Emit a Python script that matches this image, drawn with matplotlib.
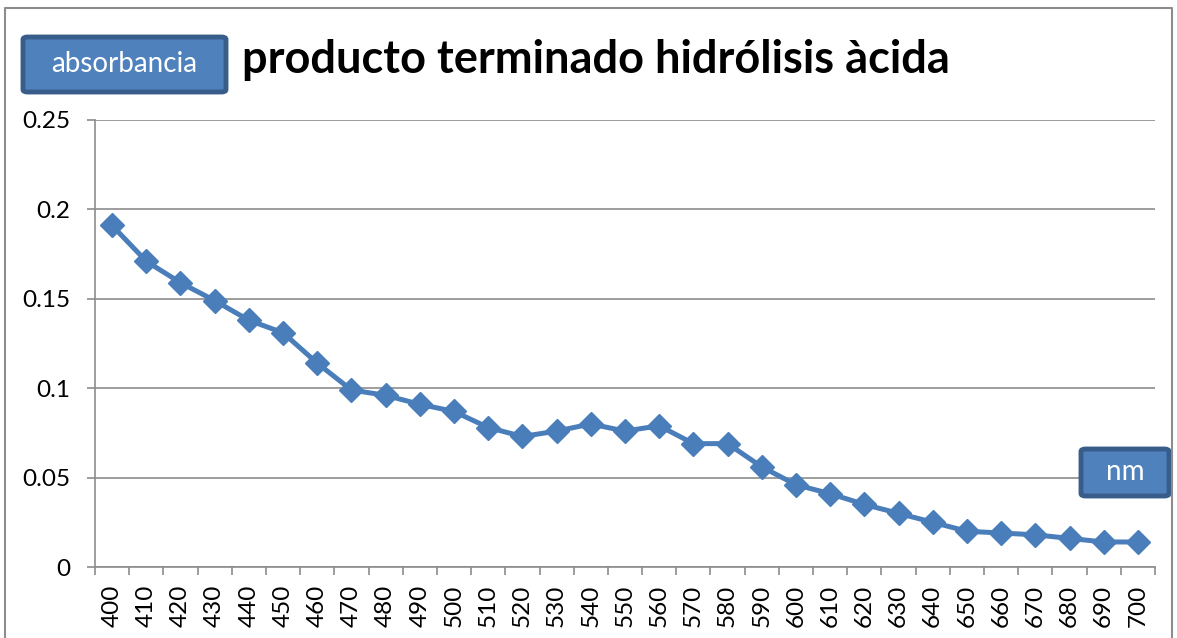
import matplotlib.pyplot as plt
from matplotlib.patches import FancyBboxPatch
from matplotlib.lines import Line2D

plt.rcParams['font.family'] = ['Lato', 'DejaVu Sans']

nm = [400, 410, 420, 430, 440, 450, 460, 470, 480, 490, 500, 510, 520, 530, 540,
      550, 560, 570, 580, 590, 600, 610, 620, 630, 640, 650, 660, 670, 680, 690, 700]
absorbancia = [0.191, 0.171, 0.159, 0.149, 0.138, 0.131, 0.114, 0.099, 0.096, 0.091,
               0.087, 0.078, 0.073, 0.076, 0.080, 0.076, 0.079, 0.069, 0.069, 0.056,
               0.046, 0.041, 0.035, 0.030, 0.025, 0.020, 0.019, 0.018, 0.016, 0.014,
               0.014]
y_ticks = [0, 0.05, 0.1, 0.15, 0.2, 0.25]
y_labels = ['0', '0.05', '0.1', '0.15', '0.2', '0.25']

W, H = 1177, 638
fig = plt.figure(figsize=(W / 100, H / 100), dpi=100)
ax = fig.add_axes([95 / W, 1 - 567 / H, 1060 / W, 447 / H])

x = list(range(len(nm)))
ax.plot(x, absorbancia, color='#4A7EBB', lw=3.6, marker='D', ms=12.5,
        markerfacecolor='#4A7EBB', markeredgecolor='#4A7EBB', zorder=3)

ax.set_xlim(-0.5, len(nm) - 0.5)
ax.set_ylim(0, 0.25)
ax.set_yticks(y_ticks)
ax.set_yticklabels(y_labels, fontsize=17.5)
ax.yaxis.grid(True, color='#8c8c8c', lw=1.2)
ax.set_axisbelow(True)

ax.set_xticks([i - 0.5 for i in range(len(nm) + 1)])
ax.set_xticklabels([])
ax.set_xticks(x, minor=True)
ax.set_xticklabels([str(v) for v in nm], minor=True, rotation=90, fontsize=17.5)
ax.tick_params(axis='x', which='minor', length=0, pad=13)
ax.tick_params(axis='x', which='major', length=6, color='#8c8c8c', width=1.2)
ax.tick_params(axis='y', length=6, color='#8c8c8c', width=1.2, pad=12)

for s in ['top', 'right']:
    ax.spines[s].set_visible(False)
for s in ['left', 'bottom']:
    ax.spines[s].set_color('#8c8c8c')
    ax.spines[s].set_linewidth(1.2)

# outer chart border
fig.add_artist(Line2D([5 / W, 5 / W, 1172 / W, 1172 / W], [0, 1 - 8 / H, 1 - 8 / H, 0],
                      transform=fig.transFigure, color='#8c8c8c', lw=1.5))

fig.text(596 / W, 1 - 60 / H, 'producto terminado hidrólisis àcida', fontsize=32.5,
         fontweight='bold', ha='center', va='center')

def label_box(x0, y0, x1, y1, text, size):
    box = FancyBboxPatch((x0 / W, 1 - y1 / H), (x1 - x0) / W, (y1 - y0) / H,
                         boxstyle='round,pad=0,rounding_size=0.004',
                         transform=fig.transFigure, facecolor='#4F81BD',
                         edgecolor='#385D8A', lw=3.5)
    fig.add_artist(box)
    fig.text((x0 + x1) / 2 / W, 1 - (y0 + y1) / 2 / H, text, color='white',
             fontsize=size, ha='center', va='center')

label_box(23, 37, 226, 92, 'absorbancia', 20)
label_box(1081, 449, 1169, 496, 'nm', 20)

fig.savefig('out.png', dpi=100)
